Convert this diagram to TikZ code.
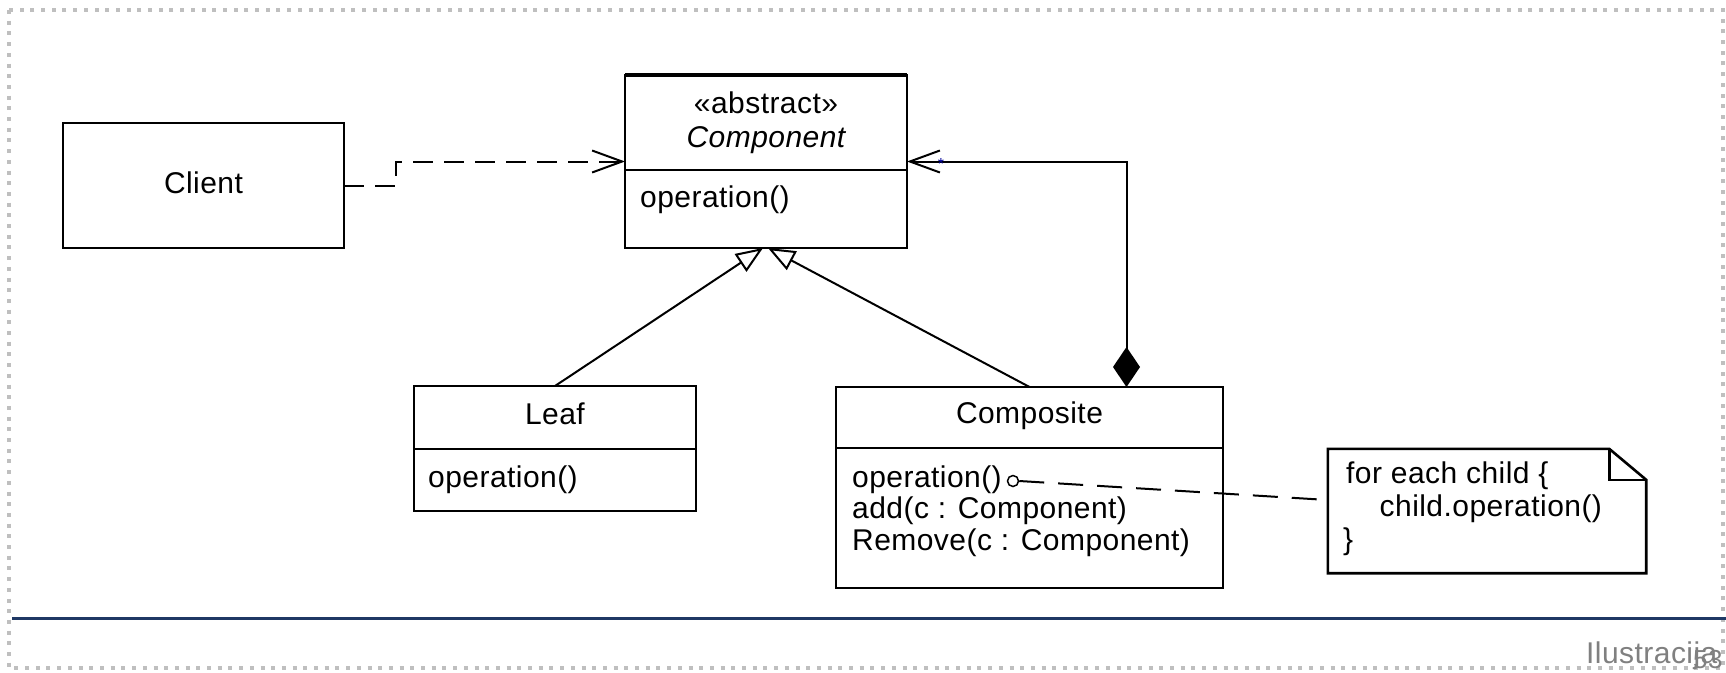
\documentclass[tikz,border=0pt]{standalone}
\usepackage{fontspec}
\setmainfont{Liberation Sans}[LetterSpace=1.5]
\usetikzlibrary{arrows.meta,calc}
\newcommand{\umlfont}{\fontsize{30}{36}\selectfont}

\begin{document}
\begin{tikzpicture}[x=1pt,y=-1pt,
  box/.style={draw, line width=2.6pt, rectangle, inner sep=0pt, outer sep=0pt},
  lbl/.style={inner sep=0pt, anchor=base, font=\umlfont},
  member/.style={inner sep=0pt, anchor=base west, font=\umlfont},
  wire/.style={line width=2pt},
  dep/.style={wire, dash pattern=on 20pt off 11pt, -{Straight Barb[length=30pt,width=22pt]}},
  gen/.style={wire, -{Triangle[open,length=27pt,width=21pt,fill=white]}},
  compo/.style={wire, {Diamond[length=40pt,width=27pt]}-{Straight Barb[length=30pt,width=22pt]}},
  notelink/.style={wire, dash pattern=on 25pt off 14pt},
  divider/.style={line width=2.6pt},
]
\useasboundingbox (0,0) rectangle (1726,672);

% page frame and rule
\draw[black!25, line width=4pt, dash pattern=on 4pt off 6.7pt] (9,10) rectangle (1723,668);
\draw[color={rgb,255:red,31;green,56;blue,100}, line width=3pt] (12,618) -- (1726,618);

% Client
\node[box, minimum width=281pt, minimum height=125pt] (client) at (203.5,185.5) {};
\node[lbl] (clientname) at (203.5,193) {Client};

% Component
\node[box, minimum width=282pt, minimum height=173pt] (comp) at (766,161.5) {};
\draw[line width=4pt] (comp.north west) -- (comp.north east);
\draw[divider] ($(comp.north west)+(0,95)$) -- ($(comp.north east)+(0,95)$);
\node[lbl] (compster) at (766,113) {«abstract»};
\node[lbl] (compname) at (766,147) {\itshape Component};
\node[member] (compop) at (640,207) {operation()};

% Leaf
\node[box, minimum width=282pt, minimum height=125pt] (leaf) at (555,448.5) {};
\draw[divider] ($(leaf.north west)+(0,63)$) -- ($(leaf.north east)+(0,63)$);
\node[lbl] (leafname) at (555,424) {Leaf};
\node[member] (leafop) at (428,487) {operation()};

% Composite
\node[box, minimum width=387pt, minimum height=201pt] (composite) at (1029.5,487.5) {};
\draw[divider] ($(composite.north west)+(0,61)$) -- ($(composite.north east)+(0,61)$);
\node[lbl] (compositename) at (1029.5,423) {Composite};
\node[member] (m1) at (852,487) {operation()};
\node[member] (m2) at (852,518.5) {add(c : Component)};
\node[member] (m3) at (852,550) {Remove(c : Component)};
\node[draw, circle, line width=1.5pt, inner sep=0pt, minimum size=11pt, fill=white] (knob) at (1013,481) {};

% Note with folded corner
\node[inner sep=0pt, minimum width=318pt, minimum height=124pt] (note) at (1487,511) {};
\draw[line width=2.6pt, fill=white] (note.south west) -- (note.north west)
  -- ($(note.north east)+(-37,0)$) -- ($(note.north east)+(0,31)$)
  -- (note.south east) -- cycle;
\draw[line width=2.6pt] ($(note.north east)+(-37,0)$) |- ($(note.north east)+(0,31)$);
\node[member] (n1) at (1346,483) {for each child \{};
\node[member] (n2) at (1379.5,516) {child.operation()};
\node[member] (n3) at (1343,549) {\}};

% connectors
\draw[dep] (client.east) -- ++(52,0) |- (comp.west);
\draw[gen] (leaf.north) -- ([xshift=-3pt]comp.south);
\draw[gen] (composite.north) -- ([xshift=2pt]comp.south);
\coordinate (cjoin) at ([xshift=97pt]composite.north);
\draw[compo] (cjoin) |- (comp.east);
\node[inner sep=0pt, font=\fontsize{16}{16}\selectfont, text=blue!60!black] (mult) at (941,164) {*};
\draw[notelink] (knob.east) -- ([yshift=11pt]note.west);

% caption with page number printed over its end
\node[inner sep=0pt, anchor=base west, font=\fontsize{30}{36}\selectfont, text=black!50] (caption) at (1586,663) {Ilustracija};
\node[inner sep=0pt, anchor=base west, font=\fontsize{26}{30}\selectfont, text=black!50] (pageno) at (1693,668) {53};
\end{tikzpicture}
\end{document}
